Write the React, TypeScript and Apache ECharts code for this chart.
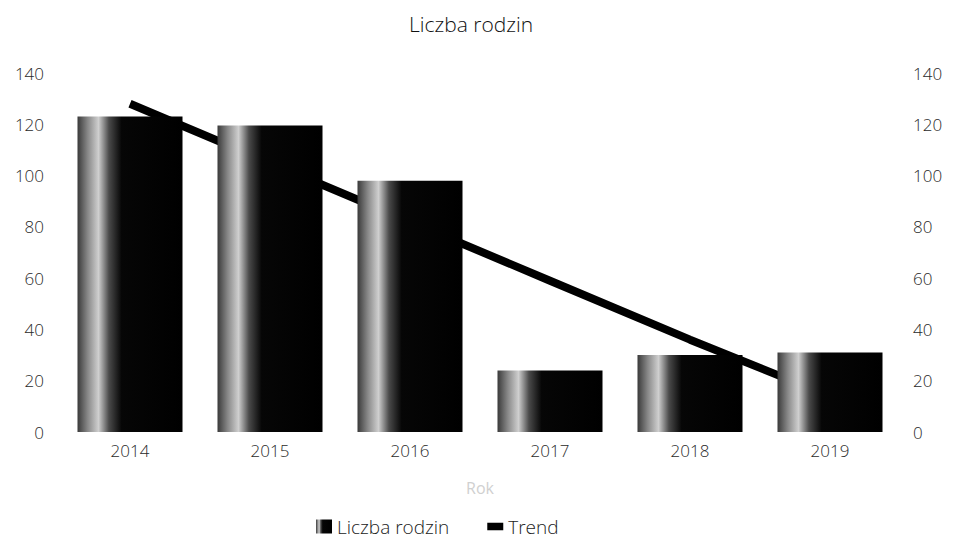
import React, { useEffect, useRef } from "react";
import * as echarts from "echarts";

const categories = ["2014", "2015", "2016", "2017", "2018", "2019"];
const familyCounts = [123, 119.5, 98, 24, 30, 31];
const trendValues = [128, 105, 82, 59, 36, 14];
const yTicksMax = 140;

export default function App() {
  const ref = useRef<HTMLDivElement>(null);
  useEffect(() => {
    if (!ref.current) return;
    const chart = echarts.init(ref.current, undefined, { renderer: "svg" });
    const font = "'Open Sans', sans-serif";
    const barGradient = new echarts.graphic.LinearGradient(0, 0, 1, 0, [
      { offset: 0, color: "#3a3a3a" },
      { offset: 0.1, color: "#8a8a8a" },
      { offset: 0.2, color: "#cfcfcf" },
      { offset: 0.3, color: "#4a4a4a" },
      { offset: 0.42, color: "#060606" },
      { offset: 1, color: "#000000" },
    ]);
    const axisY = (pos: "left" | "right") => ({
      type: "value" as const,
      position: pos,
      min: 0,
      max: yTicksMax,
      interval: 20,
      axisLine: { show: false },
      axisTick: { show: false },
      splitLine: { show: false },
      axisLabel: {
        color: "#2a2a2a",
        fontFamily: font,
        fontSize: 17,
        fontWeight: 300,
        margin: pos === "left" ? 16 : 13,
        align: pos === "left" ? ("right" as const) : ("left" as const),
      },
    });
    chart.setOption({
      animation: false,
      backgroundColor: "#ffffff",
      title: {
        text: "Liczba rodzin",
        left: 404,
        top: 8,
        textStyle: { fontFamily: font, fontSize: 21, fontWeight: 300, color: "#111" },
      },
      grid: { left: 60, right: 58, top: 73, bottom: 112, containLabel: false },
      legend: {
        bottom: 3,
        left: 311,
        itemWidth: 16,
        itemHeight: 14,
        itemGap: 38,
        textStyle: { fontFamily: font, fontSize: 19, fontWeight: 300, color: "#222" },
        data: [
          { name: "Liczba rodzin", icon: "rect" },
          { name: "Trend", icon: "path://M0,0h17v8h-17z", itemStyle: { color: "#000" } },
        ],
      },
      xAxis: {
        type: "category",
        data: categories,
        name: "Rok",
        nameLocation: "middle",
        nameGap: 48,
        nameTextStyle: { fontFamily: font, fontSize: 16, color: "#d0d0d0" },
        axisLine: { show: false },
        axisTick: { show: false },
        axisLabel: { color: "#2a2a2a", fontFamily: font, fontSize: 17, fontWeight: 300, margin: 10 },
      },
      yAxis: [axisY("left"), axisY("right")],
      series: [
        {
          name: "Trend",
          type: "line",
          data: trendValues,
          yAxisIndex: 0,
          symbol: "none",
          z: 1,
          lineStyle: { color: "#000", width: 8 },
          itemStyle: { color: "#000" },
        },
        {
          name: "Liczba rodzin",
          type: "bar",
          data: familyCounts,
          yAxisIndex: 0,
          barCategoryGap: "25%",
          z: 2,
          itemStyle: { color: barGradient },
        },
      ],
    });
    return () => chart.dispose();
  }, []);
  return (
    <div
      ref={ref}
      style={{ position: "fixed", left: 0, top: 0, width: 958, height: 544 }}
    />
  );
}
